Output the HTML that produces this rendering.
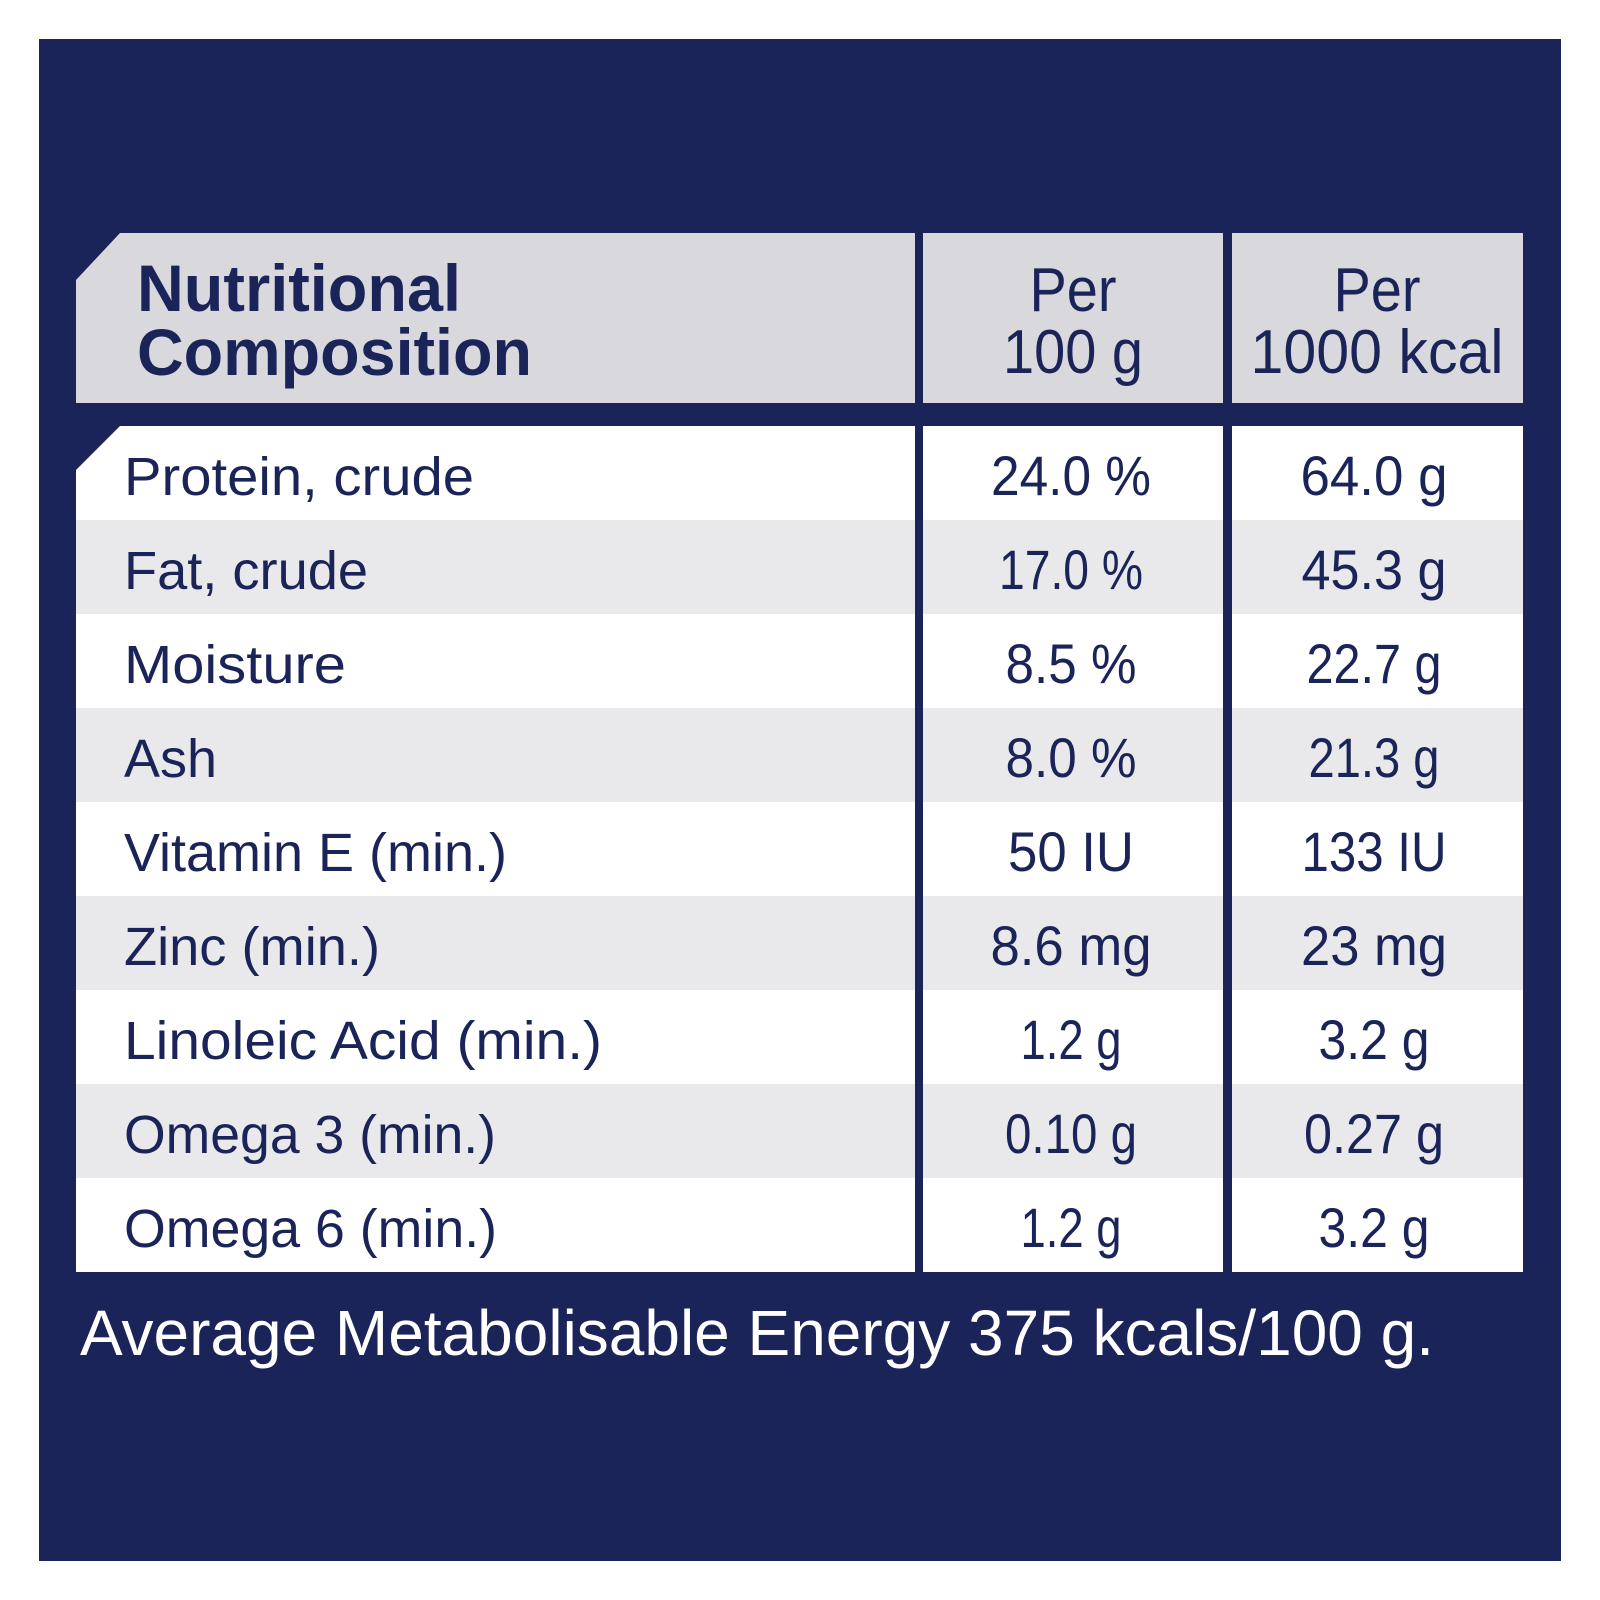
<!DOCTYPE html>
<html><head><meta charset="utf-8"><style>html,body{margin:0;padding:0;background:#fff}svg{display:block}</style></head>
<body>
<svg width="1600" height="1600" viewBox="0 0 1600 1600" xmlns="http://www.w3.org/2000/svg" font-family="Liberation Sans, sans-serif" fill="#1b2459">
<rect x="39" y="39" width="1522" height="1522" fill="#1b2459"/>
<!-- header -->
<polygon points="120,233 915,233 915,403 76,403 76,280" fill="#d9d9dd"/>
<rect x="923" y="233" width="300" height="170" fill="#d9d9dd"/>
<rect x="1232" y="233" width="291" height="170" fill="#d9d9dd"/>
<g font-weight="bold" font-size="66">
<text x="137" y="311" textLength="324" lengthAdjust="spacingAndGlyphs">Nutritional</text>
<text x="137" y="375" textLength="395" lengthAdjust="spacingAndGlyphs">Composition</text>
</g>
<g font-size="62" text-anchor="middle">
<text x="1073" y="311" textLength="87" lengthAdjust="spacingAndGlyphs">Per</text>
<text x="1073" y="373" textLength="140" lengthAdjust="spacingAndGlyphs">100 g</text>
<text x="1377" y="311" textLength="87" lengthAdjust="spacingAndGlyphs">Per</text>
<text x="1377" y="373" textLength="253" lengthAdjust="spacingAndGlyphs">1000 kcal</text>
</g>
<!-- rows -->
<g>
<polygon points="120,426 915,426 915,520 76,520 76,470" fill="#ffffff"/>
<rect x="923" y="426" width="300" height="94" fill="#fff"/><rect x="1232" y="426" width="291" height="94" fill="#fff"/>
<rect x="76" y="520" width="839" height="94" fill="#e9e9ec"/><rect x="923" y="520" width="300" height="94" fill="#e9e9ec"/><rect x="1232" y="520" width="291" height="94" fill="#e9e9ec"/>
<rect x="76" y="614" width="839" height="94" fill="#fff"/><rect x="923" y="614" width="300" height="94" fill="#fff"/><rect x="1232" y="614" width="291" height="94" fill="#fff"/>
<rect x="76" y="708" width="839" height="94" fill="#e9e9ec"/><rect x="923" y="708" width="300" height="94" fill="#e9e9ec"/><rect x="1232" y="708" width="291" height="94" fill="#e9e9ec"/>
<rect x="76" y="802" width="839" height="94" fill="#fff"/><rect x="923" y="802" width="300" height="94" fill="#fff"/><rect x="1232" y="802" width="291" height="94" fill="#fff"/>
<rect x="76" y="896" width="839" height="94" fill="#e9e9ec"/><rect x="923" y="896" width="300" height="94" fill="#e9e9ec"/><rect x="1232" y="896" width="291" height="94" fill="#e9e9ec"/>
<rect x="76" y="990" width="839" height="94" fill="#fff"/><rect x="923" y="990" width="300" height="94" fill="#fff"/><rect x="1232" y="990" width="291" height="94" fill="#fff"/>
<rect x="76" y="1084" width="839" height="94" fill="#e9e9ec"/><rect x="923" y="1084" width="300" height="94" fill="#e9e9ec"/><rect x="1232" y="1084" width="291" height="94" fill="#e9e9ec"/>
<rect x="76" y="1178" width="839" height="94" fill="#fff"/><rect x="923" y="1178" width="300" height="94" fill="#fff"/><rect x="1232" y="1178" width="291" height="94" fill="#fff"/>
</g>
<g font-size="54">
<text x="124" y="495" textLength="350" lengthAdjust="spacingAndGlyphs">Protein, crude</text>
<text x="124" y="589" textLength="244" lengthAdjust="spacingAndGlyphs">Fat, crude</text>
<text x="124" y="683" textLength="222" lengthAdjust="spacingAndGlyphs">Moisture</text>
<text x="124" y="777" textLength="93" lengthAdjust="spacingAndGlyphs">Ash</text>
<text x="124" y="871" textLength="383" lengthAdjust="spacingAndGlyphs">Vitamin E (min.)</text>
<text x="124" y="965" textLength="256" lengthAdjust="spacingAndGlyphs">Zinc (min.)</text>
<text x="124" y="1059" textLength="478" lengthAdjust="spacingAndGlyphs">Linoleic Acid (min.)</text>
<text x="124" y="1153" textLength="372" lengthAdjust="spacingAndGlyphs">Omega 3 (min.)</text>
<text x="124" y="1247" textLength="373" lengthAdjust="spacingAndGlyphs">Omega 6 (min.)</text>
</g>
<g font-size="56" text-anchor="middle">
<text x="1071" y="495" textLength="160" lengthAdjust="spacingAndGlyphs">24.0 %</text>
<text x="1071" y="589" textLength="144" lengthAdjust="spacingAndGlyphs">17.0 %</text>
<text x="1071" y="683" textLength="131" lengthAdjust="spacingAndGlyphs">8.5 %</text>
<text x="1071" y="777" textLength="131" lengthAdjust="spacingAndGlyphs">8.0 %</text>
<text x="1071" y="871" textLength="126" lengthAdjust="spacingAndGlyphs">50 IU</text>
<text x="1071" y="965" textLength="161" lengthAdjust="spacingAndGlyphs">8.6 mg</text>
<text x="1071" y="1059" textLength="101" lengthAdjust="spacingAndGlyphs">1.2 g</text>
<text x="1071" y="1153" textLength="132" lengthAdjust="spacingAndGlyphs">0.10 g</text>
<text x="1071" y="1247" textLength="101" lengthAdjust="spacingAndGlyphs">1.2 g</text>
<text x="1374" y="495" textLength="147" lengthAdjust="spacingAndGlyphs">64.0 g</text>
<text x="1374" y="589" textLength="145" lengthAdjust="spacingAndGlyphs">45.3 g</text>
<text x="1374" y="683" textLength="135" lengthAdjust="spacingAndGlyphs">22.7 g</text>
<text x="1374" y="777" textLength="131" lengthAdjust="spacingAndGlyphs">21.3 g</text>
<text x="1374" y="871" textLength="145" lengthAdjust="spacingAndGlyphs">133 IU</text>
<text x="1374" y="965" textLength="146" lengthAdjust="spacingAndGlyphs">23 mg</text>
<text x="1374" y="1059" textLength="111" lengthAdjust="spacingAndGlyphs">3.2 g</text>
<text x="1374" y="1153" textLength="140" lengthAdjust="spacingAndGlyphs">0.27 g</text>
<text x="1374" y="1247" textLength="111" lengthAdjust="spacingAndGlyphs">3.2 g</text>
</g>
<text x="80" y="1355" font-size="64" fill="#ffffff" textLength="1354" lengthAdjust="spacingAndGlyphs">Average Metabolisable Energy 375 kcals/100 g.</text>
</svg>
</body></html>
